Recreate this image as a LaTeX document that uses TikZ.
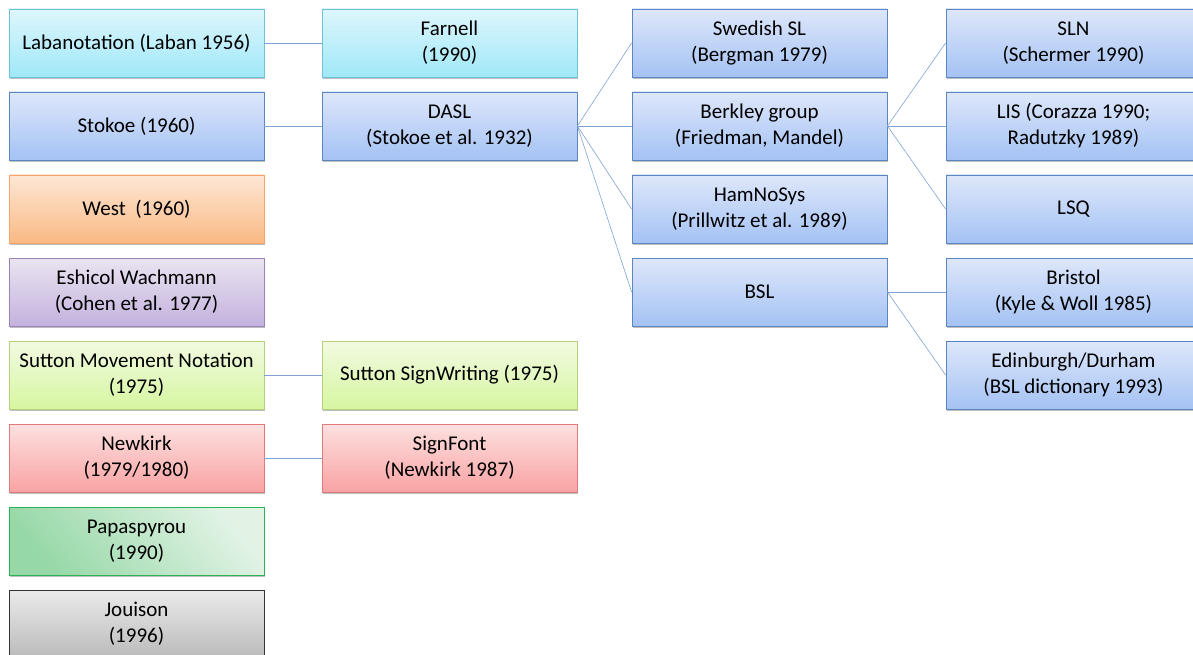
\documentclass[tikz,border=0pt]{standalone}
\usepackage[]{xcolor}
\usepackage{fontspec}
\setmainfont{Carlito}
\usepackage{tikz}
\usetikzlibrary{shadows}

\definecolor{linkblue}{HTML}{7FA2D4}
\definecolor{cyanedge}{HTML}{6CC3D8}
\definecolor{blueedge}{HTML}{5B86C2}
\definecolor{orangeedge}{HTML}{F5A36A}
\definecolor{purpleedge}{HTML}{9A82B8}
\definecolor{limeedge}{HTML}{B5CF7A}
\definecolor{rededge}{HTML}{E07B7B}
\definecolor{greenedge}{HTML}{2DB357}

\begin{document}
\begin{tikzpicture}[x=1pt,y=-1pt,
    every node/.style={font=\fontsize{21}{26}\selectfont},
    box/.style={draw, line width=.8pt, minimum width=255, minimum height=68,
      inner sep=2pt, align=center,
      drop shadow={shadow xshift=1pt, shadow yshift=-2pt, opacity=.25, fill=black}},
    cyanbox/.style={box, draw=cyanedge, top color={rgb,255:red,222;green,246;blue,253}, bottom color={rgb,255:red,160;green,232;blue,248}},
    bluebox/.style={box, draw=blueedge, top color={rgb,255:red,222;green,231;blue,250}, bottom color={rgb,255:red,164;green,194;blue,244}},
    orangebox/.style={box, draw=orangeedge, top color={rgb,255:red,253;green,231;blue,213}, bottom color={rgb,255:red,250;green,185;blue,132}},
    purplebox/.style={box, draw=purpleedge, top color={rgb,255:red,234;green,228;blue,241}, bottom color={rgb,255:red,196;green,178;blue,222}},
    limebox/.style={box, draw=limeedge, top color={rgb,255:red,242;green,250;blue,226}, bottom color={rgb,255:red,214;green,246;blue,160}},
    redbox/.style={box, draw=rededge, top color={rgb,255:red,253;green,224;blue,224}, bottom color={rgb,255:red,249;green,163;blue,163}},
    greenbox/.style={box, draw=greenedge, top color={rgb,255:red,226;green,243;blue,230}, bottom color={rgb,255:red,150;green,216;blue,166}, shading angle=-50},
    graybox/.style={box, draw=black!80, top color=black!8, bottom color=black!27},
    link/.style={draw=linkblue, line width=.6pt}]
  \useasboundingbox (0,0) rectangle (1193,655);

  % first column
  \node[cyanbox]   (laban)   at (136.5, 43) {Labanotation (Laban 1956)};
  \node[bluebox]   (stokoe)  at (136.5,126) {Stokoe (1960)};
  \node[orangebox] (west)    at (136.5,209) {West~ (1960)};
  \node[purplebox] (eshicol) at (136.5,292) {Eshicol Wachmann\\(Cohen et al. 1977)};
  \node[limebox]   (suttonmn) at (136.5,375) {Sutton Movement Notation\\(1975)};
  \node[redbox]    (newkirk) at (136.5,458) {Newkirk\\(1979/1980)};
  \node[greenbox]  (papa)    at (136.5,541) {Papaspyrou\\(1990)};
  \node[graybox]   (jouison) at (136.5,624) {Jouison\\(1996)};

  % second column
  \node[cyanbox] (farnell)  at (449.5, 43) {Farnell\\(1990)};
  \node[bluebox] (dasl)     at (449.5,126) {DASL\\(Stokoe et al. 1932)};
  \node[limebox] (suttonsw) at (449.5,375) {Sutton SignWriting (1975)};
  \node[redbox]  (signfont) at (449.5,458) {SignFont\\(Newkirk 1987)};

  % third column
  \node[bluebox] (swedish)  at (759.5, 43) {Swedish SL\\(Bergman 1979)};
  \node[bluebox] (berkley)  at (759.5,126) {Berkley group\\(Friedman, Mandel)};
  \node[bluebox] (hamnosys) at (759.5,209) {HamNoSys\\(Prillwitz et al. 1989)};
  \node[bluebox] (bsl)      at (759.5,292) {BSL};

  % fourth column
  \node[bluebox] (sln)       at (1073.5, 43) {SLN\\(Schermer 1990)};
  \node[bluebox] (lis)       at (1073.5,126) {LIS (Corazza 1990;\\Radutzky 1989)};
  \node[bluebox] (lsq)       at (1073.5,209) {LSQ};
  \node[bluebox] (bristol)   at (1073.5,292) {Bristol\\(Kyle \& Woll 1985)};
  \node[bluebox] (edinburgh) at (1073.5,375) {Edinburgh/Durham\\(BSL dictionary 1993)};

  \draw[link] (laban.east) -- (farnell.west);
  \draw[link] (stokoe.east) -- (dasl.west);
  \draw[link] (suttonmn.east) -- (suttonsw.west);
  \draw[link] (newkirk.east) -- (signfont.west);
  \foreach \t in {swedish,berkley,hamnosys,bsl}
    \draw[link] (dasl.east) -- (\t.west);
  \foreach \t in {sln,lis,lsq}
    \draw[link] (berkley.east) -- (\t.west);
  \foreach \t in {bristol,edinburgh}
    \draw[link] (bsl.east) -- (\t.west);
\end{tikzpicture}
\end{document}
